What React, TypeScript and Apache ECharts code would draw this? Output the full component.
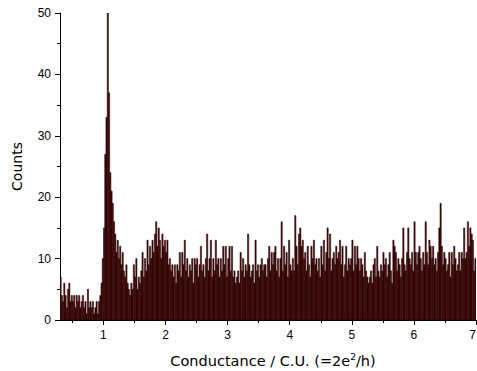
import React, { useEffect, useRef } from "react";
import * as echarts from "echarts";

const BIN_START = 0.3;
const BIN_WIDTH = 0.02;
// counts per 0.02 bin, grouped by 0.1 of conductance
const counts: number[] = [
  7, 4, 3, 6, 4, // 0.3
  2, 5, 6, 3, 4, // 0.4
  3, 4, 2, 4, 3, // 0.5
  4, 2, 3, 4, 2, // 0.6
  3, 1, 5, 2, 3, // 0.7
  2, 3, 1, 2, 3, // 0.8
  1, 3, 4, 6, 10, // 0.9
  15, 27, 33, 50, 37, // 1.0
  24, 21, 19, 16, 14, // 1.1
  11, 13, 10, 12, 9, // 1.2
  11, 8, 7, 9, 6, // 1.3
  5, 4, 6, 5, 9, // 1.4
  7, 10, 5, 7, 6, // 1.5
  8, 11, 7, 10, 8, // 1.6
  13, 9, 12, 10, 13, // 1.7
  11, 14, 16, 12, 15, // 1.8
  13, 10, 14, 12, 13, // 1.9
  11, 13, 9, 10, 8, // 2.0
  9, 7, 9, 6, 9, // 2.1
  8, 11, 7, 11, 9, // 2.2
  13, 8, 10, 7, 9, // 2.3
  8, 10, 6, 10, 9, // 2.4
  10, 7, 9, 12, 8, // 2.5
  9, 7, 10, 14, 8, // 2.6
  10, 13, 7, 10, 8, // 2.7
  13, 9, 10, 7, 10, // 2.8
  8, 12, 9, 12, 7, // 2.9
  10, 12, 8, 12, 7, // 3.0
  8, 6, 7, 8, 6, // 3.1
  11, 8, 10, 7, 9, // 3.2
  8, 14, 9, 7, 8, // 3.3
  9, 6, 13, 8, 9, // 3.4
  7, 9, 10, 8, 9, // 3.5
  9, 7, 10, 12, 8, // 3.6
  11, 9, 11, 12, 8, // 3.7
  10, 7, 10, 16, 8, // 3.8
  12, 9, 11, 7, 13, // 3.9
  9, 8, 10, 8, 17, // 4.0
  12, 9, 14, 15, 12, // 4.1
  13, 10, 11, 8, 12, // 4.2
  9, 7, 12, 10, 13, // 4.3
  9, 10, 8, 10, 7, // 4.4
  12, 9, 13, 8, 11, // 4.5
  15, 10, 14, 8, 10, // 4.6
  11, 9, 12, 10, 11, // 4.7
  13, 9, 12, 7, 9, // 4.8
  12, 8, 10, 9, 10, // 4.9
  13, 8, 12, 9, 12, // 5.0
  10, 8, 10, 9, 7, // 5.1
  11, 8, 7, 6, 7, // 5.2
  8, 6, 9, 10, 7, // 5.3
  12, 8, 7, 9, 8, // 5.4
  11, 9, 10, 7, 9, // 5.5
  11, 8, 6, 13, 12, // 5.6
  11, 8, 10, 9, 7, // 5.7
  10, 15, 9, 8, 11, // 5.8
  15, 10, 9, 11, 8, // 5.9
  16, 11, 9, 11, 12, // 6.0
  10, 8, 11, 9, 16, // 6.1
  11, 9, 13, 12, 10, // 6.2
  12, 9, 10, 8, 11, // 6.3
  15, 19, 12, 9, 11, // 6.4
  10, 8, 9, 11, 7, // 6.5
  11, 9, 12, 10, 8, // 6.6
  9, 11, 8, 11, 10, // 6.7
  15, 10, 11, 16, 12, // 6.8
  15, 14, 13, 8, 10, // 6.9
];

const xMajorTicks = [1, 2, 3, 4, 5, 6, 7];
const xMinorTicks = [0.5, 1.5, 2.5, 3.5, 4.5, 5.5, 6.5];

export default function App() {
  const ref = useRef<HTMLDivElement>(null);
  useEffect(() => {
    if (!ref.current) return;
    const chart = echarts.init(ref.current, null, { renderer: "svg" });
    const data = counts.map((c, i) => [+(BIN_START + i * BIN_WIDTH).toFixed(3), c]);
    const font = "Liberation Sans";
    const nameFont = "DejaVu Sans";
    chart.setOption({
      animation: false,
      grid: { left: 60, right: 1, top: 13, bottom: 51, outerBoundsMode: "none", containLabel: false },
      xAxis: [
        {
          type: "value",
          min: 0.3,
          max: 7,
          name: "Conductance / C.U. (=2e{sup|2}/h)",
          nameLocation: "middle",
          nameGap: 32,
          nameTextStyle: {
            color: "#000",
            fontFamily: nameFont,
            fontSize: 14.5,
            padding: [0, 0, 0, 10],
            rich: { sup: { fontSize: 9, verticalAlign: "top", padding: [0, 0, 9, 0], fontFamily: nameFont, color: "#000" } },
          },
          axisLine: { show: true, lineStyle: { color: "#000", width: 1 } },
          axisTick: { show: true, length: 5, customValues: xMajorTicks, lineStyle: { color: "#000" } },
          axisLabel: { customValues: xMajorTicks, color: "#000", fontFamily: font, fontSize: 12, margin: 9, alignMaxLabel: "right" },
          splitLine: { show: false },
        },
        {
          type: "value",
          min: 0.3,
          max: 7,
          position: "bottom",
          axisLine: { show: false },
          axisTick: { show: true, length: 3, customValues: xMinorTicks, lineStyle: { color: "#000" } },
          axisLabel: { show: false },
          splitLine: { show: false },
        },
      ],
      yAxis: {
        type: "value",
        min: 0,
        max: 50,
        interval: 10,
        name: "Counts",
        nameLocation: "middle",
        nameGap: 36,
        nameTextStyle: { color: "#000", fontFamily: nameFont, fontSize: 14 },
        axisLine: { show: true, lineStyle: { color: "#000", width: 1 } },
        axisTick: { show: true, length: 5, lineStyle: { color: "#000" } },
        minorTick: { show: true, splitNumber: 2, length: 3, lineStyle: { color: "#000" } },
        axisLabel: { color: "#000", fontFamily: font, fontSize: 12, margin: 9 },
        splitLine: { show: false },
      },
      series: [
        {
          type: "custom",
          xAxisIndex: 0,
          encode: { x: 0, y: 1 },
          data,
          clip: true,
          renderItem: (params: any, api: any) => {
            const x0 = api.value(0);
            const y = api.value(1);
            const p0 = api.coord([x0, y]);
            const p1 = api.coord([x0 + BIN_WIDTH, 0]);
            return {
              type: "rect",
              shape: { x: p0[0], y: p0[1], width: p1[0] - p0[0], height: p1[1] - p0[1] },
              style: { fill: "#6a0000", stroke: "#000", lineWidth: 0.5 },
            };
          },
        },
      ],
    });
    return () => chart.dispose();
  }, []);
  return <div ref={ref} style={{ width: 477, height: 371, position: "absolute", left: 0, top: 0 }} />;
}
